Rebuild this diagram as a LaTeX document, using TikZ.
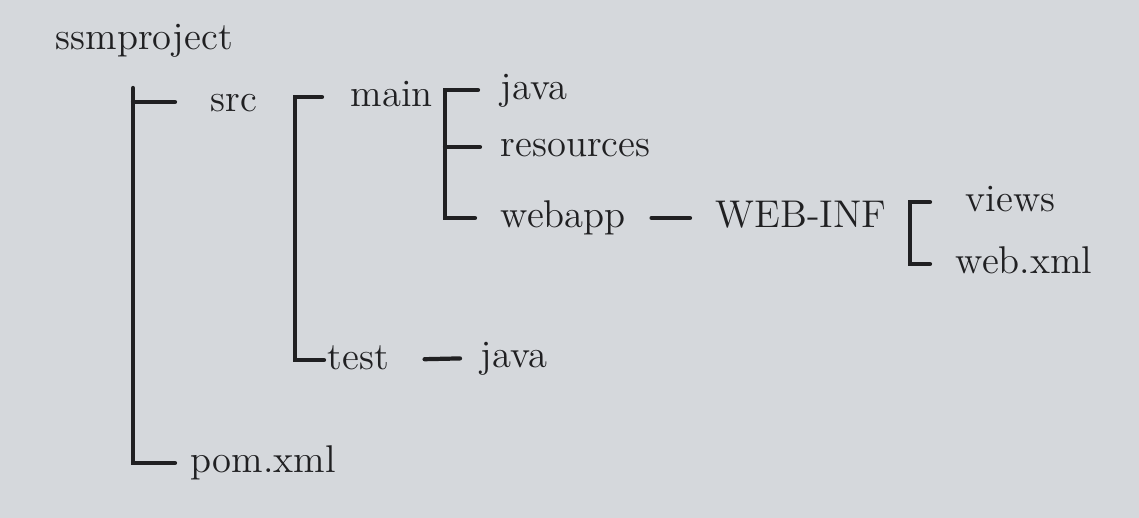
\documentclass[tikz,border=0pt]{standalone}
\usepackage{tikz}
\definecolor{paper}{RGB}{213,216,220}
\definecolor{ink}{RGB}{32,32,34}
\tikzstyle{item}=[anchor=west,inner sep=0pt,text height=1.6ex,text depth=0.4ex,text=ink,font=\fontsize{11}{13}\selectfont]
\tikzstyle{tree}=[draw=ink,line width=1.2pt,line cap=round]

\begin{document}
\begin{tikzpicture}
		\fill[paper] (0,0) rectangle (11.39,5.18);
		\useasboundingbox (0,0) rectangle (11.39,5.18);

		\node[item] (root) at (0.55,4.78) {ssmproject};
		\node[item] (src) at (2.10,4.16) {src};
		\node[item] (main) at (3.50,4.21) {main};
		\node[item] (java1) at (5.00,4.28) {java};
		\node[item] (res) at (5.00,3.71) {resources};
		\node[item] (webapp) at (5.00,3.00) {webapp};
		\node[item] (webinf) at (7.15,3.00) {WEB-INF};
		\node[item] (views) at (9.65,3.16) {views};
		\node[item] (webxml) at (9.55,2.54) {web.xml};
		\node[item] (test) at (3.27,1.58) {test};
		\node[item] (java2) at (4.80,1.60) {java};
		\node[item] (pom) at (1.90,0.55) {pom.xml};

		\coordinate (b1t) at (1.33,4.30);
		\coordinate (b2b) at (2.95,1.58);
		\coordinate (b3b) at (4.45,3.00);
		\coordinate (b4b) at (9.10,2.54);

		% ssmproject
		\draw[tree,shorten >=0.15cm] (b1t) |- (pom.west);
		\draw[tree,shorten >=0.35cm] (b1t |- src.west) -- (src.west);
		% src
		\draw[tree,shorten <=0.28cm,shorten >=0.03cm] (main.west) -| (b2b) -- (test.west);
		% main
		\draw[tree,shorten <=0.22cm,shorten >=0.25cm] (java1.west) -| (b3b) -- (webapp.west);
		\draw[tree,shorten >=0.20cm] (b3b |- res.west) -- (res.west);
		% WEB-INF
		\draw[tree,shorten <=0.35cm,shorten >=0.25cm] (views.west) -| (b4b) -- (webxml.west);
		% single children
		\draw[tree,shorten <=0.25cm,shorten >=0.25cm] (webapp.east) -- (webinf.west);
		\draw[tree,shorten <=0.35cm,shorten >=0.20cm] (test.east) -- (java2.west);
	\end{tikzpicture}
\end{document}
